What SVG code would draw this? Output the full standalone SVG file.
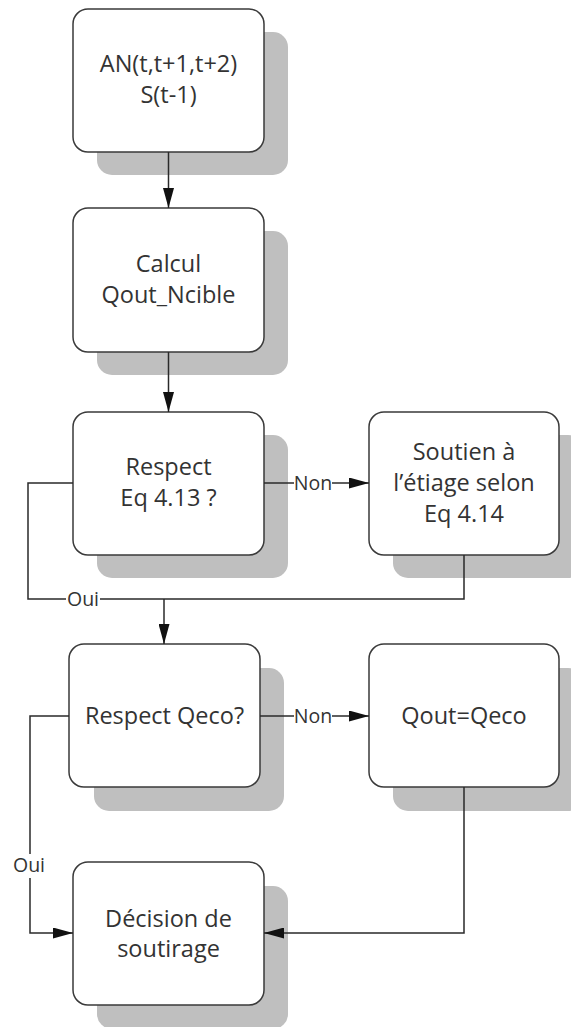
<svg xmlns="http://www.w3.org/2000/svg" width="571" height="1027" viewBox="0 0 571 1027">
<defs>
<style>
.shadow{fill:#bfbfbf;stroke:none}
.box{fill:#ffffff;stroke:#3a3a3a;stroke-width:1.5}
.t{font-family:"Open Sans","Liberation Sans",sans-serif;font-size:23.5px;fill:#333333;text-anchor:middle}
.lbl{font-family:"Open Sans","Liberation Sans",sans-serif;font-size:19.5px;fill:#333333;text-anchor:middle}
.c{fill:none;stroke:#2a2a2a;stroke-width:1.5}
</style>
<marker id="arr" markerUnits="userSpaceOnUse" markerWidth="20" markerHeight="11" refX="20" refY="5.5" orient="auto">
<path d="M0,0 L20,5.5 L0,11 z" fill="#111111"/>
</marker>
</defs>
<rect width="571" height="1027" fill="#ffffff"/>

<g id="n1">
<rect class="shadow" x="97" y="32" width="191" height="143" rx="15"/>
<rect class="box" x="73" y="9" width="191" height="143" rx="15"/>
<text class="t" x="168.5" y="72">AN(t,t+1,t+2)</text>
<text class="t" x="168.5" y="103">S(t-1)</text>
</g>

<g id="n2">
<rect class="shadow" x="97" y="231" width="191" height="144" rx="15"/>
<rect class="box" x="73" y="208" width="191" height="144" rx="15"/>
<text class="t" x="168.5" y="272">Calcul</text>
<text class="t" x="168.5" y="303">Qout_Ncible</text>
</g>

<g id="n3">
<rect class="shadow" x="97" y="435" width="191" height="143" rx="15"/>
<rect class="box" x="73" y="412" width="191" height="143" rx="15"/>
<text class="t" x="168.5" y="475">Respect</text>
<text class="t" x="168.5" y="506">Eq 4.13 ?</text>
</g>

<g id="n4">
<rect class="shadow" x="393" y="435" width="190" height="143" rx="15"/>
<rect class="box" x="369" y="412" width="190" height="143" rx="15"/>
<text class="t" x="464" y="460">Soutien à</text>
<text class="t" x="464" y="491">l’étiage selon</text>
<text class="t" x="464" y="522">Eq 4.14</text>
</g>

<g id="n5">
<rect class="shadow" x="94" y="668" width="190" height="143" rx="15"/>
<rect class="box" x="69" y="644" width="191" height="143" rx="15"/>
<text class="t" x="164.5" y="724">Respect Qeco?</text>
</g>

<g id="n6">
<rect class="shadow" x="393" y="668" width="190" height="143" rx="15"/>
<rect class="box" x="369" y="644" width="190" height="143" rx="15"/>
<text class="t" x="464" y="724">Qout=Qeco</text>
</g>

<g id="n7">
<rect class="shadow" x="97" y="886" width="191" height="143" rx="15"/>
<rect class="box" x="73" y="862" width="191" height="143" rx="15"/>
<text class="t" x="168.5" y="927">Décision de</text>
<text class="t" x="168.5" y="957">soutirage</text>
</g>

<g id="connectors">
<path class="c" d="M168.5,152 V208" marker-end="url(#arr)"/>
<path class="c" d="M168.5,352 V412" marker-end="url(#arr)"/>
<path class="c" d="M264,483 H294"/>
<path class="c" d="M332,483 H369" marker-end="url(#arr)"/>
<text class="lbl" x="313" y="490">Non</text>
<path class="c" d="M73,483 H28 V599 H66"/>
<path class="c" d="M100,599 H464 V555"/>
<text class="lbl" x="83" y="606">Oui</text>
<path class="c" d="M164,599 V644" marker-end="url(#arr)"/>
<path class="c" d="M260,716 H294"/>
<path class="c" d="M332,716 H369" marker-end="url(#arr)"/>
<text class="lbl" x="313" y="723">Non</text>
<path class="c" d="M69,716 H30 V854"/>
<path class="c" d="M30,878 V933 H73" marker-end="url(#arr)"/>
<text class="lbl" x="29" y="872">Oui</text>
<path class="c" d="M464,787 V933 H264" marker-end="url(#arr)"/>
</g>
</svg>
